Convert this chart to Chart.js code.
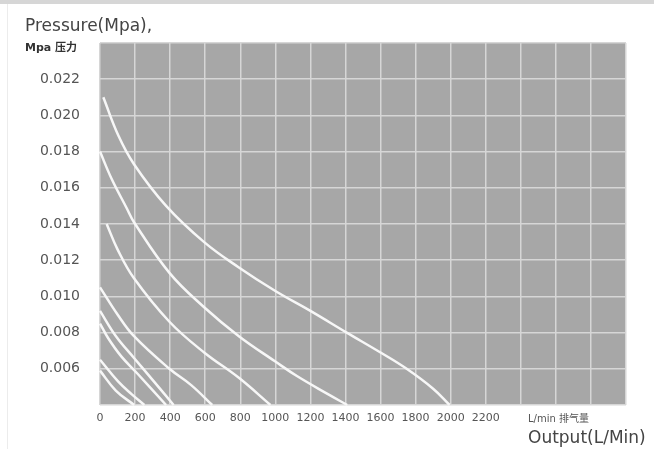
<!DOCTYPE html>
<html>
<head>
<meta charset="utf-8">
<script src="https://cdn.jsdelivr.net/npm/chart.js@4/dist/chart.umd.min.js"></script>
<style>
  html, body { margin: 0; padding: 0; background: #fff; }
  #wrap { position: relative; width: 654px; height: 449px; }
  #topband { position: absolute; left: 0; top: 0; width: 654px; height: 4px; background: #d6d6d6; }
  #leftline { position: absolute; left: 7px; top: 4px; width: 1px; height: 445px; background: #ececec; }
  canvas { position: absolute; left: 0; top: 0; }
</style>
</head>
<body>
<div id="wrap">
  <canvas id="chart" width="654" height="449"></canvas>
  <div id="topband"></div>
  <div id="leftline"></div>
</div>
<script>
"use strict"

// output (L/min) and pressure (MPa), top to bottom
var flow1 = [19, 104, 194, 377, 594, 792, 1000, 1200, 1407, 1600, 1749, 1900, 1994]
var press1 = [0.0210, 0.0189, 0.0173, 0.0150, 0.0130, 0.0116, 0.0103, 0.0092, 0.0080, 0.0069, 0.0060, 0.0049, 0.0040]
var flow2 = [0, 66, 151, 194, 396, 594, 792, 1000, 1123, 1300, 1410]
var press2 = [0.0180, 0.0165, 0.0149, 0.0141, 0.0113, 0.0094, 0.0078, 0.0064, 0.0056, 0.0046, 0.0040]
var flow3 = [38, 100, 194, 396, 594, 792, 972]
var press3 = [0.0140, 0.0126, 0.0110, 0.0086, 0.0069, 0.0055, 0.0040]
var flow4 = [0, 100, 194, 396, 520, 640]
var press4 = [0.0105, 0.0090, 0.0078, 0.0060, 0.0051, 0.0040]
var flow5 = [0, 91, 194, 290, 420]
var press5 = [0.0092, 0.0078, 0.0066, 0.0055, 0.0040]
var flow6 = [0, 46, 120, 217, 377]
var press6 = [0.0085, 0.0077, 0.0067, 0.0057, 0.0040]
var flow7 = [0, 103, 180, 253]
var press7 = [0.0065, 0.0053, 0.0046, 0.0040]
var flow8 = [0, 90, 195]
var press8 = [0.0059, 0.0048, 0.0040]

var xTickLabels = ['0', '200', '400', '600', '800', '1000', '1200', '1400', '1600', '1800', '2000', '2200']
var yTickLabels = ['0.006', '0.008', '0.010', '0.012', '0.014', '0.016', '0.018', '0.020', '0.022']

var flows = [flow1, flow2, flow3, flow4, flow5, flow6, flow7, flow8]
var pressures = [press1, press2, press3, press4, press5, press6, press7, press8]

var datasets = flows.map(function (xs, i) {
    return {
        data: xs.map(function (x, j) { return { x: x, y: pressures[i][j] } }),
        showLine: true,
        borderColor: '#f7f7f7',
        borderWidth: 2.5,
        pointRadius: 0,
        tension: 0.4,
        clip: false
    }
})

var plotBackground = {
    id: 'plotBackground',
    beforeDraw: function (chart) {
        var a = chart.chartArea
        var c = chart.ctx
        c.save()
        c.fillStyle = '#a7a7a7'
        c.fillRect(a.left, a.top, a.right - a.left, a.bottom - a.top)
        c.restore()
    }
}

var captions = {
    id: 'captions',
    afterDraw: function (chart) {
        var c = chart.ctx
        c.save()
        c.textBaseline = 'alphabetic'
        c.textAlign = 'left'
        c.fillStyle = '#444'
        c.font = '17px "DejaVu Sans"'
        c.fillText('Pressure(Mpa),', 25, 31)
        c.fillText('Output(L/Min)', 528, 443)
        c.fillStyle = '#333'
        c.font = 'bold 11px "DejaVu Sans", "Noto Sans CJK SC"'
        c.fillText('Mpa 压力', 25, 51)
        c.fillStyle = '#555'
        c.font = '10px "DejaVu Sans", "Noto Sans CJK SC"'
        c.fillText('L/min 排气量', 528, 422)
        c.restore()
    }
}

var ctx = document.getElementById('chart').getContext('2d')
var chartPressure = new Chart(ctx, {
    type: 'scatter',
    data: { datasets: datasets },
    options: {
        responsive: false,
        animation: false,
        devicePixelRatio: 1,
        layout: { padding: { left: 0, top: 43, right: 28, bottom: 0 } },
        plugins: { legend: { display: false }, tooltip: { enabled: false } },
        scales: {
            x: {
                type: 'linear',
                min: 0,
                max: 3000,
                afterFit: function (scale) { scale.height = 44 },
                grid: { color: '#d6d6d6', lineWidth: 1.5, drawTicks: false },
                border: { display: false },
                ticks: {
                    stepSize: 200,
                    padding: 7,
                    autoSkip: false,
                    maxRotation: 0,
                    color: '#555',
                    font: { family: 'DejaVu Sans', size: 11 },
                    callback: function (v) {
                        var s = String(Math.round(v))
                        return xTickLabels.indexOf(s) >= 0 ? s : ''
                    }
                }
            },
            y: {
                type: 'linear',
                min: 0.004,
                max: 0.024,
                afterFit: function (scale) { scale.width = 100 },
                grid: { color: '#d6d6d6', lineWidth: 1.5, drawTicks: false },
                border: { display: false },
                ticks: {
                    stepSize: 0.002,
                    padding: 20,
                    autoSkip: false,
                    color: '#555',
                    font: { family: 'DejaVu Sans', size: 14 },
                    callback: function (v) {
                        var s = v.toFixed(3)
                        return yTickLabels.indexOf(s) >= 0 ? s : ''
                    }
                }
            }
        }
    },
    plugins: [plotBackground, captions]
})
</script>
</body>
</html>
